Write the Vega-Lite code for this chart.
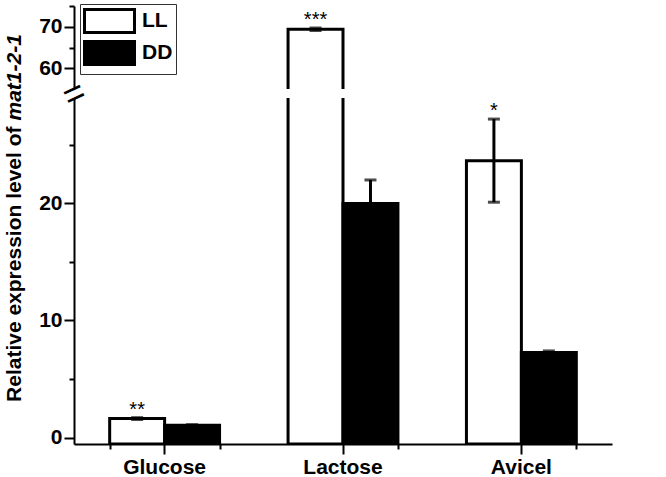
{
  "$schema": "https://vega.github.io/schema/vega-lite/v6.json",
  "padding": {"left": 3, "top": 3, "right": 5, "bottom": 2},
  "bounds": "flush",
  "data": {"values": [
    {"sugar": "Glucose", "light": "LL", "mean": 1.62, "lo": 1.54, "hi": 1.7, "sig": "**"},
    {"sugar": "Glucose", "light": "DD", "mean": 1.05, "lo": 1.0, "hi": 1.1, "sig": ""},
    {"sugar": "Lactose", "light": "LL", "mean": 69.4, "lo": 69.1, "hi": 69.7, "sig": "***"},
    {"sugar": "Lactose", "light": "DD", "mean": 20.0, "lo": 18.0, "hi": 22.0, "sig": ""},
    {"sugar": "Avicel", "light": "LL", "mean": 23.65, "lo": 20.1, "hi": 27.2, "sig": "*"},
    {"sugar": "Avicel", "light": "DD", "mean": 7.26, "lo": 7.1, "hi": 7.4, "sig": ""}
  ]},
  "spacing": 9,
  "vconcat": [
    {
      "width": 538,
      "height": 83,
      "layer": [
        {
          "mark": {"type": "bar", "stroke": "black", "strokeWidth": 3, "clip": true},
          "encoding": {
            "x": {"field": "sugar", "type": "nominal", "sort": ["Glucose", "Lactose", "Avicel"], "scale": {"paddingInner": 0.384, "paddingOuter": 0.2}, "axis": null},
            "xOffset": {"field": "light", "type": "nominal", "sort": ["LL", "DD"], "scale": {"paddingInner": 0, "paddingOuter": 0}},
            "y": {"field": "mean", "type": "quantitative", "scale": {"domain": [55, 75], "nice": false, "zero": false},
              "axis": {"orient": "left", "values": [60, 70], "tickSize": 10, "labelPadding": 2,
                "labelOverlap": false, "labelFlush": false, "labelBound": false,
                "title": "mat1-2-1", "titleFontStyle": "italic", "titleAngle": -90, "titleAlign": "left", "titleBaseline": "bottom", "titleY": 114, "titlePadding": 14}},
            "y2": {"datum": -0.55},
            "fill": {"field": "light", "type": "nominal", "sort": ["LL", "DD"],
              "scale": {"domain": ["LL", "DD"], "range": ["white", "black"]},
              "legend": {"title": null, "orient": "none", "legendX": 6, "legendY": -2,
                "symbolType": "M-1,-0.92H3V0.92H-1Z", "symbolSize": 625, "symbolStrokeColor": "black", "symbolStrokeWidth": 3,
                "labelFont": "Liberation Sans", "labelFontSize": 21, "labelFontWeight": "bold", "labelColor": "black", "labelOffset": 31,
                "rowPadding": -20, "padding": 3, "strokeColor": "#333333", "fillColor": "white"}}
          }
        },
        {
          "mark": {"type": "rule", "stroke": "black", "strokeWidth": 3, "clip": true},
          "encoding": {
            "x": {"field": "sugar", "type": "nominal", "sort": ["Glucose", "Lactose", "Avicel"], "axis": null},
            "xOffset": {"field": "light", "type": "nominal", "sort": ["LL", "DD"]},
            "y": {"field": "lo", "type": "quantitative",
              "axis": {"orient": "left", "values": [65, 75], "labels": false, "domain": false, "tickSize": 5, "title": null, "grid": false}},
            "y2": {"field": "hi"}
          }
        },
        {
          "mark": {"type": "tick", "color": "black", "size": 12, "thickness": 3, "clip": true},
          "encoding": {
            "x": {"field": "sugar", "type": "nominal", "sort": ["Glucose", "Lactose", "Avicel"], "axis": null},
            "xOffset": {"field": "light", "type": "nominal", "sort": ["LL", "DD"]},
            "y": {"field": "lo", "type": "quantitative", "axis": null}
          }
        },
        {
          "mark": {"type": "tick", "color": "black", "size": 12, "thickness": 3, "clip": true},
          "encoding": {
            "x": {"field": "sugar", "type": "nominal", "sort": ["Glucose", "Lactose", "Avicel"], "axis": null},
            "xOffset": {"field": "light", "type": "nominal", "sort": ["LL", "DD"]},
            "y": {"field": "hi", "type": "quantitative", "axis": null}
          }
        },
        {
          "mark": {"type": "text", "font": "Liberation Sans", "fontSize": 20, "baseline": "alphabetic", "dy": -2, "color": "black", "clip": true},
          "encoding": {
            "x": {"field": "sugar", "type": "nominal", "sort": ["Glucose", "Lactose", "Avicel"], "axis": null},
            "xOffset": {"field": "light", "type": "nominal", "sort": ["LL", "DD"]},
            "y": {"field": "hi", "type": "quantitative", "axis": null},
            "text": {"field": "sig"}
          }
        }
      ],
      "resolve": {"axis": {"y": "independent"}}
    },
    {
      "width": 538,
      "height": 346,
      "layer": [
        {
          "mark": {"type": "bar", "stroke": "black", "strokeWidth": 3, "clip": true},
          "encoding": {
            "x": {"field": "sugar", "type": "nominal", "sort": ["Glucose", "Lactose", "Avicel"], "scale": {"paddingInner": 0.384, "paddingOuter": 0.2},
              "axis": {"title": null, "labelAngle": 0, "tickSize": 10, "labelPadding": 2}},
            "xOffset": {"field": "light", "type": "nominal", "sort": ["LL", "DD"], "scale": {"paddingInner": 0, "paddingOuter": 0}},
            "y": {"field": "mean", "type": "quantitative", "scale": {"domain": [-0.55, 29], "nice": false, "zero": false},
              "axis": {"values": [0, 5, 10, 15, 20, 25], "labelExpr": "datum.value % 10 === 0 ? datum.label : ''",
                "tickSize": {"condition": {"test": "datum.value % 10 === 0", "value": 10}, "value": 5},
                "labelOverlap": false, "labelFlush": false, "labelBound": false, "labelPadding": 2,
                "title": "Relative expression level of", "titleAngle": -90, "titleAlign": "right", "titleBaseline": "bottom", "titleY": 28, "titlePadding": 14}},
            "y2": {"datum": -0.55},
            "fill": {"field": "light", "type": "nominal", "sort": ["LL", "DD"],
              "scale": {"domain": ["LL", "DD"], "range": ["white", "black"]}, "legend": null}
          }
        },
        {
          "mark": {"type": "rule", "stroke": "black", "strokeWidth": 3, "clip": true},
          "encoding": {
            "x": {"field": "sugar", "type": "nominal", "sort": ["Glucose", "Lactose", "Avicel"],
              "axis": {"orient": "bottom", "tickBand": "extent", "labels": false, "domain": false, "tickSize": 5, "title": null}},
            "xOffset": {"field": "light", "type": "nominal", "sort": ["LL", "DD"]},
            "y": {"field": "lo", "type": "quantitative",
              "axis": {"orient": "left", "values": [29], "labelExpr": "'='", "ticks": false, "tickSize": 0, "domain": false, "grid": false,
                "labelAngle": -25, "labelFontSize": 36, "labelFontWeight": "normal", "labelAlign": "center", "labelBaseline": "middle",
                "labelPadding": 0, "labelOffset": -4, "labelFlush": false, "labelOverlap": false, "labelBound": false, "title": null}},
            "y2": {"field": "hi"}
          }
        },
        {
          "mark": {"type": "tick", "color": "black", "size": 12, "thickness": 3, "clip": true},
          "encoding": {
            "x": {"field": "sugar", "type": "nominal", "sort": ["Glucose", "Lactose", "Avicel"], "axis": null},
            "xOffset": {"field": "light", "type": "nominal", "sort": ["LL", "DD"]},
            "y": {"field": "lo", "type": "quantitative", "axis": null}
          }
        },
        {
          "mark": {"type": "tick", "color": "black", "size": 12, "thickness": 3, "clip": true},
          "encoding": {
            "x": {"field": "sugar", "type": "nominal", "sort": ["Glucose", "Lactose", "Avicel"], "axis": null},
            "xOffset": {"field": "light", "type": "nominal", "sort": ["LL", "DD"]},
            "y": {"field": "hi", "type": "quantitative", "axis": null}
          }
        },
        {
          "mark": {"type": "text", "font": "Liberation Sans", "fontSize": 20, "baseline": "alphabetic", "dy": -2, "color": "black", "clip": true},
          "encoding": {
            "x": {"field": "sugar", "type": "nominal", "sort": ["Glucose", "Lactose", "Avicel"], "axis": null},
            "xOffset": {"field": "light", "type": "nominal", "sort": ["LL", "DD"]},
            "y": {"field": "hi", "type": "quantitative", "axis": null},
            "text": {"field": "sig"}
          }
        }
      ],
      "resolve": {"axis": {"x": "independent", "y": "independent"}}
    }
  ],
  "config": {
    "view": {"stroke": null},
    "font": "Liberation Sans",
    "axis": {
      "grid": false, "domainColor": "black", "domainWidth": 2, "tickColor": "black", "tickWidth": 2,
      "labelFont": "Liberation Sans", "labelFontSize": 21, "labelFontWeight": "bold", "labelColor": "black",
      "titleFont": "Liberation Sans", "titleFontSize": 21, "titleFontWeight": "bold", "titleColor": "black"
    }
  }
}
